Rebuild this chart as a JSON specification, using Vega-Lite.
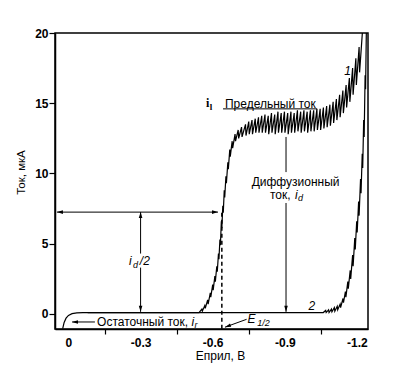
{
 "$schema": "https://vega.github.io/schema/vega-lite/v6.json",
 "width": 313,
 "height": 296,
 "autosize": {"type": "none"},
 "padding": {"left": 55, "top": 33, "right": 32, "bottom": 42},
 "background": "white",
 "config": {
  "view": {"stroke": "black", "strokeWidth": 1.5},
  "axis": {"domainColor": "black", "domainWidth": 1.5, "tickColor": "black", "tickWidth": 1.2, "labelColor": "black", "titleColor": "black", "grid": false, "labelFont": "Liberation Sans", "titleFont": "Liberation Sans", "labelFontSize": 12, "labelFontWeight": "bold", "titleFontWeight": "normal", "titleFontSize": 12}
 },
 "datasets": {
  "curve1": [
   {"x": 0.024, "y": -1.05}, {"x": 0.018, "y": -0.6}, {"x": 0.010, "y": -0.3}, {"x": 0.0, "y": -0.1}, {"x": -0.015, "y": 0.02}, {"x": -0.035, "y": 0.08}, {"x": -0.06, "y": 0.1}, {"x": -0.543, "y": 0.1},
   {"x": -0.555, "y": 0.35}, {"x": -0.557, "y": 0.2}, {"x": -0.567, "y": 0.6}, {"x": -0.569, "y": 0.4}, {"x": -0.579, "y": 1.0}, {"x": -0.581, "y": 0.7}, {"x": -0.590, "y": 1.5}, {"x": -0.592, "y": 1.2}, {"x": -0.600, "y": 2.1}, {"x": -0.602, "y": 1.7}, {"x": -0.609, "y": 2.7}, {"x": -0.611, "y": 2.3}, {"x": -0.617, "y": 3.4}, {"x": -0.619, "y": 3.0}, {"x": -0.624, "y": 4.3}, {"x": -0.626, "y": 3.9}, {"x": -0.630, "y": 5.3}, {"x": -0.632, "y": 4.9}, {"x": -0.636, "y": 6.6}, {"x": -0.638, "y": 6.1}, {"x": -0.642, "y": 7.7}, {"x": -0.644, "y": 7.2}, {"x": -0.648, "y": 8.8}, {"x": -0.650, "y": 8.3}, {"x": -0.655, "y": 9.8}, {"x": -0.657, "y": 9.3}, {"x": -0.663, "y": 10.8}, {"x": -0.665, "y": 10.3}, {"x": -0.671, "y": 11.7}, {"x": -0.673, "y": 11.2}, {"x": -0.681, "y": 12.3}, {"x": -0.683, "y": 11.8}, {"x": -0.693, "y": 12.8}, {"x": -0.695, "y": 12.3}, {"x": -0.706, "y": 13.1}, {"x": -0.708, "y": 12.5}, {"x": -0.720, "y": 13.3}, {"x": -0.722, "y": 12.6},
   {"x": -0.7365, "y": 13.5}, {"x": -0.7385, "y": 12.7},
   {"x": -0.7500, "y": 13.7}, {"x": -0.7520, "y": 12.8},
   {"x": -0.7635, "y": 13.8}, {"x": -0.7655, "y": 12.8},
   {"x": -0.7770, "y": 13.9}, {"x": -0.7790, "y": 12.9},
   {"x": -0.7905, "y": 14.0}, {"x": -0.7925, "y": 12.9},
   {"x": -0.8040, "y": 14.1}, {"x": -0.8060, "y": 12.9},
   {"x": -0.8175, "y": 14.2}, {"x": -0.8195, "y": 12.9},
   {"x": -0.8310, "y": 14.1}, {"x": -0.8330, "y": 12.8},
   {"x": -0.8445, "y": 14.3}, {"x": -0.8465, "y": 12.9},
   {"x": -0.8580, "y": 14.2}, {"x": -0.8600, "y": 12.8},
   {"x": -0.8715, "y": 14.4}, {"x": -0.8735, "y": 12.9},
   {"x": -0.8850, "y": 14.3}, {"x": -0.8870, "y": 12.9},
   {"x": -0.8985, "y": 14.4}, {"x": -0.9005, "y": 12.9},
   {"x": -0.9120, "y": 14.3}, {"x": -0.9140, "y": 12.8},
   {"x": -0.9255, "y": 14.4}, {"x": -0.9275, "y": 12.9},
   {"x": -0.9390, "y": 14.3}, {"x": -0.9410, "y": 12.9},
   {"x": -0.9525, "y": 14.5}, {"x": -0.9545, "y": 13.0},
   {"x": -0.9660, "y": 14.4}, {"x": -0.9680, "y": 12.9},
   {"x": -0.9795, "y": 14.5}, {"x": -0.9815, "y": 13.0},
   {"x": -0.9930, "y": 14.4}, {"x": -0.9950, "y": 12.9},
   {"x": -1.0065, "y": 14.5}, {"x": -1.0085, "y": 13.0},
   {"x": -1.0200, "y": 14.5}, {"x": -1.0220, "y": 13.0},
   {"x": -1.0335, "y": 14.6}, {"x": -1.0355, "y": 13.1},
   {"x": -1.0470, "y": 14.6}, {"x": -1.0490, "y": 13.1},
   {"x": -1.0605, "y": 14.7}, {"x": -1.0625, "y": 13.2},
   {"x": -1.0740, "y": 14.8}, {"x": -1.0760, "y": 13.3},
   {"x": -1.0875, "y": 14.9}, {"x": -1.0895, "y": 13.4},
   {"x": -1.1010, "y": 15.1}, {"x": -1.1030, "y": 13.6},
   {"x": -1.1145, "y": 15.3}, {"x": -1.1165, "y": 13.8},
   {"x": -1.1280, "y": 15.6}, {"x": -1.1300, "y": 14.0},
   {"x": -1.1415, "y": 15.9}, {"x": -1.1435, "y": 14.3},
   {"x": -1.1550, "y": 16.3}, {"x": -1.1570, "y": 14.7},
   {"x": -1.1685, "y": 16.8}, {"x": -1.1705, "y": 15.1},
   {"x": -1.1820, "y": 17.5}, {"x": -1.1840, "y": 15.6},
   {"x": -1.1955, "y": 18.2}, {"x": -1.1975, "y": 16.3},
   {"x": -1.2090, "y": 19.0}, {"x": -1.2110, "y": 17.2},
   {"x": -1.2225, "y": 20.0}
  ],
  "curve2": [
   {"x": -0.08, "y": 0.1}, {"x": -1.06, "y": 0.1},
   {"x": -1.07, "y": 0.25}, {"x": -1.072, "y": 0.1}, {"x": -1.082, "y": 0.3}, {"x": -1.084, "y": 0.1}, {"x": -1.094, "y": 0.35}, {"x": -1.096, "y": 0.15}, {"x": -1.106, "y": 0.45}, {"x": -1.108, "y": 0.2}, {"x": -1.118, "y": 0.55}, {"x": -1.12, "y": 0.3},
   {"x": -1.13, "y": 0.7}, {"x": -1.132, "y": 0.45}, {"x": -1.142, "y": 1.1}, {"x": -1.144, "y": 0.8}, {"x": -1.152, "y": 1.6}, {"x": -1.154, "y": 1.2}, {"x": -1.162, "y": 2.3}, {"x": -1.164, "y": 1.8}, {"x": -1.172, "y": 3.1}, {"x": -1.174, "y": 2.5}, {"x": -1.182, "y": 4.2}, {"x": -1.184, "y": 3.4}, {"x": -1.191, "y": 5.4}, {"x": -1.193, "y": 4.6}, {"x": -1.199, "y": 6.6}, {"x": -1.201, "y": 5.8}, {"x": -1.207, "y": 8.0}, {"x": -1.209, "y": 7.0}, {"x": -1.215, "y": 9.6}, {"x": -1.217, "y": 8.6}, {"x": -1.222, "y": 11.4}, {"x": -1.224, "y": 10.4}, {"x": -1.228, "y": 13.8}, {"x": -1.230, "y": 12.6}, {"x": -1.234, "y": 17.0}, {"x": -1.236, "y": 16.0}, {"x": -1.239, "y": 20.0}
  ],
  "segments": [
   {"x": 0.048, "y": 7.25, "x2": -0.622, "y2": 7.25},
   {"x": -0.300, "y": 0.15, "x2": -0.300, "y2": 3.3},
   {"x": -0.300, "y": 4.3, "x2": -0.300, "y2": 7.25},
   {"x": -0.905, "y": 12.6, "x2": -0.905, "y2": 10.1},
   {"x": -0.905, "y": 7.9, "x2": -0.905, "y2": 0.15},
   {"x": -0.643, "y": 14.6, "x2": -1.034, "y2": 14.6},
   {"x": -0.110, "y": -0.57, "x2": -0.015, "y2": -0.57},
   {"x": -0.741, "y": -0.38, "x2": -0.651, "y2": -0.94}
  ],
  "dashed": [
   {"x": -0.638, "y": 7.2, "x2": -0.638, "y2": -1.07}
  ],
  "arrow_left": [{"x": 0.048, "y": 7.25}, {"x": -0.0146, "y": -0.57}],
  "arrow_right": [{"x": -0.622, "y": 7.25}],
  "arrow_up": [{"x": -0.300, "y": 7.25}],
  "arrow_down": [{"x": -0.300, "y": 0.15}, {"x": -0.905, "y": 0.15}],
  "arrow_diag": [{"x": -0.651, "y": -0.94}],
  "text_main": [
   {"t": "Предельный ток", "x": -0.651, "y": 14.95},
   {"t": "Диффузионный", "x": -0.762, "y": 9.4},
   {"t": "ток,", "x": -0.838, "y": 8.5},
   {"t": "Остаточный ток,", "x": -0.119, "y": -0.57}
  ],
  "text_italic": [
   {"t": "i", "x": -0.252, "y": 3.77},
   {"t": "/2", "x": -0.297, "y": 3.77},
   {"t": "i", "x": -0.942, "y": 8.5},
   {"t": "i", "x": -0.512, "y": -0.57},
   {"t": "E", "x": -0.745, "y": -0.36}
  ],
  "text_sub": [
   {"t": "d", "x": -0.268, "y": 3.5},
   {"t": "d", "x": -0.955, "y": 8.25},
   {"t": "r", "x": -0.524, "y": -0.8},
   {"t": "1/2", "x": -0.785, "y": -0.66}
  ],
  "curve_labels": [
   {"t": "1", "x": -1.161, "y": 17.3},
   {"t": "2", "x": -1.012, "y": 0.6}
  ],
  "text_serif": [{"t": "i", "x": -0.572, "y": 15.0}],
  "text_serifsub": [{"t": "l", "x": -0.588, "y": 14.75}]
 },
 "encoding": {
  "x": {"field": "x", "type": "quantitative",
   "scale": {"domain": [-1.246, 0.056], "reverse": true, "nice": false, "zero": false},
   "axis": {"orient": "bottom", "values": [0, -0.15, -0.3, -0.45, -0.6, -0.75, -0.9, -1.05, -1.2], "tickSize": 5, "labelPadding": 3,
    "labelExpr": "datum.value == 0 ? '0' : (abs(round(datum.value*100)) % 30 == 0 ? '-' + format(abs(datum.value), '.1f') : '')",
    "tickOpacity": {"condition": {"test": "abs(round(datum.value*100)) % 30 == 0", "value": 0}, "value": 1},
    "title": "Eприл, В", "titleX": 165, "titleY": 21, "titleBaseline": "top"}},
  "y": {"field": "y", "type": "quantitative",
   "scale": {"domain": [-1.07, 20], "nice": false, "zero": false},
   "axis": {"values": [0, 5, 10, 15, 20], "tickSize": 6, "labelPadding": 1, "title": "Ток, мкА", "titleX": -29, "titleY": 139, "titleAngle": -90, "titleBaseline": "bottom", "titleAlign": "center", "titleFontSize": 11.5}}
 },
 "layer": [
  {"data": {"name": "curve1"}, "mark": {"type": "line", "color": "black", "strokeWidth": 1.2, "clip": true}},
  {"data": {"name": "curve2"}, "mark": {"type": "line", "color": "black", "strokeWidth": 1.2, "clip": true}},
  {"data": {"name": "segments"}, "mark": {"type": "rule", "color": "black", "strokeWidth": 1}, "encoding": {"x2": {"field": "x2"}, "y2": {"field": "y2"}}},
  {"data": {"name": "dashed"}, "mark": {"type": "rule", "color": "black", "strokeWidth": 1.5, "strokeDash": [4, 3]}, "encoding": {"x2": {"field": "x2"}, "y2": {"field": "y2"}}},
  {"data": {"name": "arrow_left"}, "mark": {"type": "point", "shape": "M0,0L0.6,2L-0.6,2Z", "filled": true, "color": "black", "opacity": 1, "size": 36, "angle": 270}},
  {"data": {"name": "arrow_right"}, "mark": {"type": "point", "shape": "M0,0L0.6,2L-0.6,2Z", "filled": true, "color": "black", "opacity": 1, "size": 36, "angle": 90}},
  {"data": {"name": "arrow_up"}, "mark": {"type": "point", "shape": "M0,0L0.6,2L-0.6,2Z", "filled": true, "color": "black", "opacity": 1, "size": 36, "angle": 0}},
  {"data": {"name": "arrow_down"}, "mark": {"type": "point", "shape": "M0,0L0.6,2L-0.6,2Z", "filled": true, "color": "black", "opacity": 1, "size": 36, "angle": 180}},
  {"data": {"name": "arrow_diag"}, "mark": {"type": "point", "shape": "M0,0L0.6,2L-0.6,2Z", "filled": true, "color": "black", "opacity": 1, "size": 36, "angle": 250}},
  {"data": {"name": "text_main"}, "mark": {"type": "text", "align": "left", "baseline": "middle", "font": "Liberation Sans", "fontSize": 12, "color": "black"}, "encoding": {"text": {"field": "t"}}},
  {"data": {"name": "text_italic"}, "mark": {"type": "text", "align": "left", "baseline": "middle", "font": "Liberation Sans", "fontStyle": "italic", "fontSize": 12, "color": "black"}, "encoding": {"text": {"field": "t"}}},
  {"data": {"name": "text_sub"}, "mark": {"type": "text", "align": "left", "baseline": "middle", "font": "Liberation Sans", "fontStyle": "italic", "fontSize": 9, "color": "black"}, "encoding": {"text": {"field": "t"}}},
  {"data": {"name": "curve_labels"}, "mark": {"type": "text", "align": "center", "baseline": "middle", "font": "Liberation Sans", "fontStyle": "italic", "fontSize": 12, "color": "black"}, "encoding": {"text": {"field": "t"}}},
  {"data": {"name": "text_serif"}, "mark": {"type": "text", "align": "left", "baseline": "middle", "font": "Liberation Serif", "fontWeight": "bold", "fontSize": 12, "color": "black"}, "encoding": {"text": {"field": "t"}}},
  {"data": {"name": "text_serifsub"}, "mark": {"type": "text", "align": "left", "baseline": "middle", "font": "Liberation Serif", "fontWeight": "bold", "fontSize": 9, "color": "black"}, "encoding": {"text": {"field": "t"}}}
 ]
}
